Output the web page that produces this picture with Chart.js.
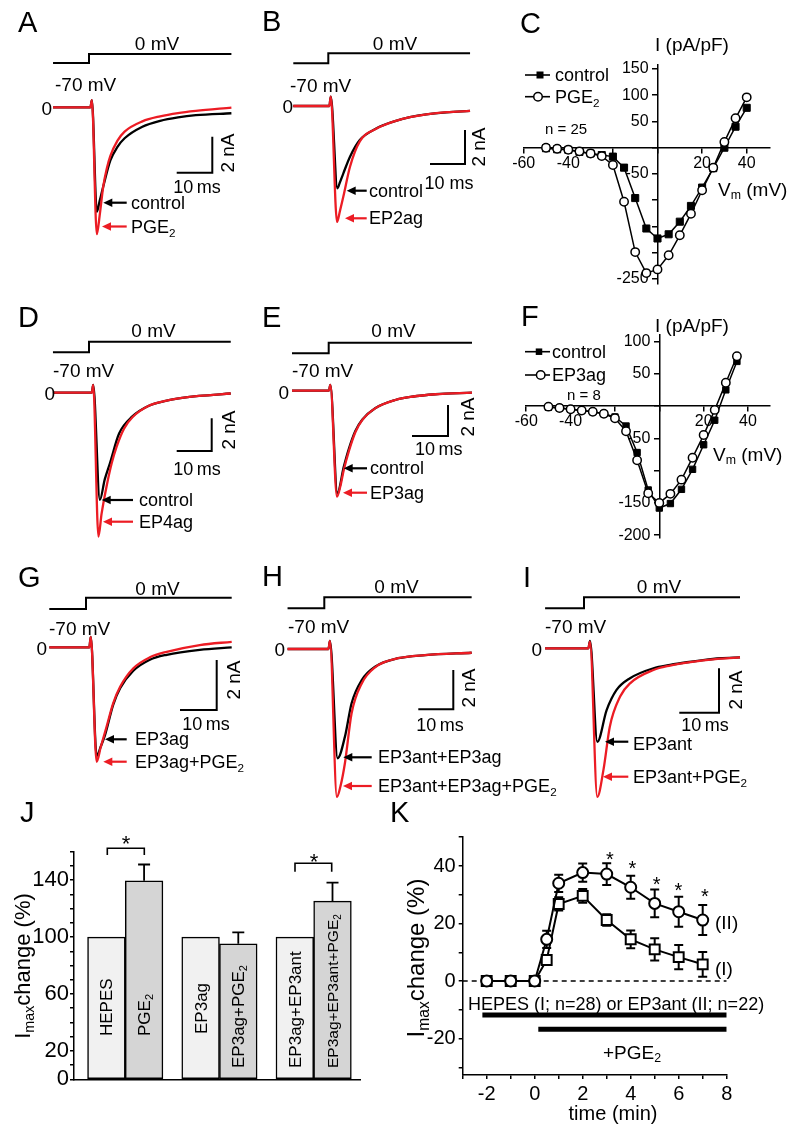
<!DOCTYPE html>
<html lang="en">
<head>
<meta charset="UTF-8">
<title>PGE2 and EP receptor effects on Na+ current</title>
<script src="https://cdn.jsdelivr.net/npm/chart.js@4.4.1/dist/chart.umd.min.js"></script>
<style>
  html, body { margin: 0; padding: 0; background: #fff; }
  #fig { position: relative; width: 793px; height: 1128px; overflow: hidden; background: #fff;
         font-family: "Liberation Sans", Arial, sans-serif; color: #000; }
  #fig canvas { position: absolute; }
  #overlay { position: absolute; left: 0; top: 0; pointer-events: none; }
  .t { position: absolute; white-space: nowrap; line-height: 1; transform: translateY(-50%); }
  .rot { position: absolute; width: 0; height: 0; transform: rotate(-90deg); transform-origin: 0 0; }
  .rot span { position: absolute; left: 0; top: 0; white-space: nowrap; line-height: 1; }
  sub { font-size: 0.65em; vertical-align: -0.3em; line-height: 0; }
</style>
</head>
<body>
<div id="fig"></div>
<script>
// ---- current traces: [time (ms), current (nA)] ----
const aControl = [[-10.1,0],[0.4,0],[0.8,0.4],[2.2,-5.8],[3,-5.2],[4,-4.4],[6,-2.95],[8,-2.2],[10,-1.72],[15,-1.08],[20,-0.75],[25,-0.56],[30,-0.44],[40,-0.33]];
const aPGE2    = [[-10.1,0],[0.4,0],[0.8,0.4],[2.2,-7.05],[3,-6.0],[4,-4.4],[5,-3.4],[6,-2.7],[8,-1.85],[10,-1.35],[15,-0.78],[20,-0.5],[25,-0.32],[30,-0.2],[40,-0.02]];
const bControl = [[-10,0],[0.3,0],[0.7,0.55],[2.6,-4.84],[3.3,-4.5],[4.3,-3.96],[6.2,-2.98],[9,-2.0],[13.8,-1.31],[18.6,-0.92],[23.3,-0.66],[28,-0.49],[33.8,-0.37],[40.5,-0.29]];
const bEP2ag   = [[-10,0],[0.3,0],[0.7,0.55],[2.5,-6.82],[3.3,-6.2],[4.3,-5.33],[6.2,-3.57],[9,-2.08],[13.8,-1.33],[18.6,-0.92],[23.3,-0.66],[28,-0.49],[33.8,-0.36],[40.5,-0.29]];
const dControl = [[-10.3,0],[0.8,0],[1.2,0.47],[3.1,-6.56],[4.5,-5.3],[6,-4.3],[8.6,-2.5],[12.4,-1.45],[17.1,-0.8],[21.9,-0.5],[26.6,-0.32],[31.4,-0.2],[40.5,-0.05]];
const dEP4ag   = [[-10.3,0],[0.8,0],[1.2,0.47],[2.7,-8.8],[3.6,-7.4],[5,-5.75],[6.5,-4.3],[7.9,-3.3],[10,-2.2],[12.4,-1.5],[17.1,-0.8],[21.9,-0.5],[26.6,-0.32],[31.4,-0.2],[40.5,-0.05]];
const eControl = [[-10.2,0],[0.05,0],[0.45,0.37],[2.4,-6.6],[4.2,-4.9],[5.6,-3.75],[7.4,-2.6],[9.3,-1.87],[12.9,-1.13],[18.5,-0.6],[23.1,-0.39],[29.6,-0.23],[39.8,-0.13]];
const eEP3ag   = [[-10.2,0],[0.05,0],[0.45,0.37],[2.3,-6.84],[3.2,-6.2],[4.2,-5.1],[5.6,-3.9],[7.4,-2.68],[9.3,-1.9],[12.9,-1.14],[18.5,-0.6],[23.1,-0.39],[29.6,-0.23],[39.8,-0.12]];
const gEP3ag   = [[-10,0],[0.9,0],[1.3,0.42],[2.9,-4.35],[4,-3.98],[5.2,-3.5],[7.4,-2.3],[9.3,-1.64],[12.9,-0.94],[17.4,-0.5],[22,-0.3],[31,-0.1],[39.7,0]];
const gEP3agPGE2 = [[-10,0],[0.9,0],[1.3,0.42],[2.9,-4.58],[4,-4.0],[5.6,-3.18],[7.4,-2.24],[9.3,-1.58],[12.9,-0.84],[17.4,-0.4],[22,-0.18],[31,0.09],[39.7,0.22]];
const hAntAg   = [[-10.5,0],[1.2,0],[1.6,0.41],[3.8,-5.56],[5.9,-4.46],[7.8,-2.76],[10.7,-1.58],[14.5,-0.9],[21.1,-0.47],[28.8,-0.31],[42.1,-0.19]];
const hAntAgPGE2 = [[-10.5,0],[1.2,0],[1.6,0.41],[3.6,-7.53],[4.6,-7.0],[5.9,-5.8],[7.8,-3.27],[10.7,-1.75],[14.5,-0.93],[21.1,-0.47],[28.8,-0.31],[42.1,-0.19]];
const iAnt     = [[-9.8,0],[1.1,0],[1.5,0.33],[3.35,-4.22],[5.7,-2.79],[8.2,-1.88],[11.6,-1.35],[17.5,-0.9],[21.7,-0.75],[25.9,-0.63],[30,-0.53],[34.3,-0.45],[39.3,-0.41]];
const iAntPGE2 = [[-9.8,0],[1.1,0],[1.5,0.3],[3.35,-6.71],[4.9,-5.49],[6.5,-3.54],[9.1,-2.18],[11.6,-1.58],[17.5,-0.98],[21.7,-0.78],[25.9,-0.65],[34.3,-0.47],[39.3,-0.41]];
const stepLevels = [-70, -70, 0, 0];   // mV, holding then test pulse

// ---- I-V curves (pA/pF) ----
const cVm = [-50,-45,-40,-35,-30,-25,-20,-15,-10,-5,0,5,10,15,20,25,30,35,40];
const cControl = [-1,-3,-4,-8,-11,-14,-17,-38,-96,-154,-173,-165,-141,-111,-76,-39,0,40,76];
const cPGE2    = [0,-2,-4,-7,-11,-16,-33,-103,-199,-239,-232,-205,-167,-126,-81,-38,11,56,96];
const cXTicks = [-60,-40,-20,0,20,40], cXLabels = [-60,-40,20,40];
const cYTicks = [-250,-200,-150,-100,-50,0,50,100,150], cYLabels = [-250,-50,50,100,150];

const fVm = [-50,-45,-40,-35,-30,-25,-20,-15,-10,-5,0,5,10,15,20,25,30,35];
const fControl = [-2,-3,-5,-7,-9,-12,-17,-31,-72,-130,-158,-151,-129,-98,-60,-22,25,69];
const fEP3ag   = [-1,-3,-5,-7,-9,-12,-19,-39,-84,-135,-150,-136,-114,-80,-45,-6,36,77];
const fXTicks = [-60,-40,-20,0,20,40], fXLabels = [-60,-40,20,40];
const fYTicks = [-200,-150,-100,-50,0,50,100], fYLabels = [-200,-150,-50,50,100];

// ---- J: Imax change (%) ----
const jGroups = ['HEPES', 'PGE<sub>2</sub>', 'EP3ag', 'EP3ag+PGE<sub>2</sub>', 'EP3ag+EP3ant', 'EP3ag+EP3ant+PGE<sub>2</sub>'];
const jPos = [1, 2, 3.5, 4.5, 6, 7];
const jValues = [100, 139.5, 100, 95.3, 100, 125.2];
const jErrors = [0, 11.5, 0, 8, 0, 13];
const jYTicks = [0,10,20,30,40,50,60,70,80,90,100,110,120,130,140,150,160];
const jYLabels = [0, 20, 60, 100, 140];

// ---- K: time course ----
const kTime = [-2, -1, 0, 0.5, 1, 2, 3, 4, 5, 6, 7];
const kHepes = [0, 0, 0, 7.3, 26.8, 29.6, 21.2, 14.5, 11, 8.3, 5.8];
const kHepesErr = [0.4, 0.4, 0.4, 1.5, 2.3, 2.4, 2, 3.1, 3.9, 4.2, 4.3];
const kEP3ant = [0, 0, 0, 14.5, 34, 37.7, 37.2, 32.6, 27, 24.1, 21.2];
const kEP3antErr = [0.4, 0.4, 0.4, 3, 3, 3.2, 3.8, 4, 4.8, 5.2, 5.2];
const kDrugBar = [-2.18, 8], kDrugLevel = -11.8;   // HEPES or EP3ant application
const kPGEBar = [0.15, 8], kPGELevel = -16.8;      // +PGE2 application
const kXTicks = [-3,-2,-1,0,1,2,3,4,5,6,7,8], kXLabels = [-2,0,2,4,6,8];
const kYTicks = [-30,-20,-10,0,10,20,30,40,50], kYLabels = [-20,0,20,40];

// -------------------------------------------------------------------
const RED = '#ec1c24';
const FONT = '"Liberation Sans", Arial, sans-serif';
Chart.defaults.font.family = FONT;
Chart.defaults.color = '#000';
const fig = document.getElementById('fig');
const NS = 'http://www.w3.org/2000/svg';

function fitRange(v1, p1, v2, p2, pA, pB) {
  // linear value->pixel map through two known points, returns values at pixels pA, pB
  const k = (p2 - p1) / (v2 - v1);
  const a = v1 + (pA - p1) / k, b = v1 + (pB - p1) / k;
  return { min: Math.min(a, b), max: Math.max(a, b) };
}

function placeCanvas(area, m) {
  const cl = Math.floor(area[0] - m.l), ct = Math.floor(area[1] - m.t);
  const cr = Math.ceil(area[2] + m.r), cb = Math.ceil(area[3] + m.b);
  const c = document.createElement('canvas');
  c.width = cr - cl; c.height = cb - ct;
  c.style.left = cl + 'px'; c.style.top = ct + 'px';
  fig.appendChild(c);
  return {
    canvas: c, left: cl, top: ct,
    padding: { left: area[0] - cl - (m.axisL || 0), top: area[1] - ct,
               right: cr - area[2], bottom: cb - area[3] - (m.axisB || 0) }
  };
}

const baseOpts = {
  responsive: false, animation: false, devicePixelRatio: 1, events: [],
  plugins: { legend: { display: false }, tooltip: { enabled: false } }
};

const xy = arr => arr.map(p => ({ x: p[0], y: p[1] }));

// error bars drawn through the dataset's own scale
const errorBarPlugin = {
  id: 'errorBars',
  beforeDatasetsDraw(chart) { drawErrors(chart, 'under'); },
  afterDatasetsDraw(chart) { drawErrors(chart, 'over'); }
};
function drawErrors(chart, layer) {
  const ctx = chart.ctx;
  chart.data.datasets.forEach((ds, i) => {
    if (!ds.errors || ds.errorLayer !== layer) return;
    const meta = chart.getDatasetMeta(i);
    const ys = chart.scales[meta.yAxisID];
    ctx.save();
    ctx.strokeStyle = '#000';
    ctx.lineWidth = ds.errorWidth;
    ds.errors.forEach((e, j) => {
      if (!e) return;
      const el = meta.data[j], v = ds.data[j].y, half = ds.errorCap / 2;
      const top = ys.getPixelForValue(v + e);
      const bot = ys.getPixelForValue(ds.errorUpOnly ? v : v - e);
      ctx.beginPath();
      ctx.moveTo(el.x, bot); ctx.lineTo(el.x, top);
      ctx.moveTo(el.x - half, top); ctx.lineTo(el.x + half, top);
      if (!ds.errorUpOnly) { ctx.moveTo(el.x - half, bot); ctx.lineTo(el.x + half, bot); }
      ctx.stroke();
    });
    ctx.restore();
  });
}

// ---- trace panels ----
const tracePanels = [
  { area: [45, 40, 240, 245],  t: [89, 124.6],    i: [107.3, 143.3], v: [54, 63],       black: aControl, red: aPGE2 },
  { area: [285, 40, 482, 232], t: [328.3, 363.3], i: [106, 140],     v: [53.3, 63.3],   black: bControl, red: bEP2ag },
  { area: [45, 328, 240, 545], t: [89, 124],      i: [392.7, 425.4], v: [341.7, 352.3], black: dControl, red: dEP4ag },
  { area: [285, 328, 480, 505],t: [328.7, 364.7], i: [390.7, 421.7], v: [342.7, 353.3], black: eControl, red: eEP3ag },
  { area: [40, 585, 240, 770], t: [86, 122.7],    i: [647.3, 697.3], v: [597.7, 609],   black: gEP3ag, red: gEP3agPGE2 },
  { area: [280, 585, 480, 805],t: [324.3, 359.3], i: [649, 688.3],   v: [597.3, 608.3], black: hAntAg, red: hAntAgPGE2 },
  { area: [540, 585, 745, 805],t: [584, 623.7],   i: [648.3, 692.6], v: [597.3, 608.3], black: iAnt, red: iAntPGE2 }
];

tracePanels.forEach(p => {
  const [L, T, R, B] = p.area;
  const pc = placeCanvas(p.area, { l: 6, t: 6, r: 6, b: 6 });
  const xr = fitRange(0, p.t[0], 10, p.t[1], L, R);
  const yr = fitRange(0, p.i[0], -2, p.i[1], T, B);
  const vr = fitRange(0, p.v[0], -70, p.v[1], T, B);
  const stepT = [p.black[0][0], 0, 0, p.black[p.black.length - 1][0]];
  new Chart(pc.canvas, {
    type: 'line',
    data: {
      datasets: [
        { data: xy(p.red), borderColor: RED, borderWidth: 2.3, cubicInterpolationMode: 'monotone', order: 0 },
        { data: xy(p.black), borderColor: '#000', borderWidth: 2.3, cubicInterpolationMode: 'monotone', order: 1 },
        { data: stepLevels.map((v, k) => ({ x: stepT[k], y: v })), yAxisID: 'yv', borderColor: '#000', borderWidth: 2, order: 2 }
      ]
    },
    options: {
      ...baseOpts,
      layout: { padding: pc.padding },
      elements: { point: { radius: 0 } },
      scales: {
        x: { type: 'linear', display: false, min: xr.min, max: xr.max },
        y: { type: 'linear', display: false, min: yr.min, max: yr.max },
        yv: { type: 'linear', display: false, min: vr.min, max: vr.max }
      }
    }
  });
});

// ---- I-V panels ----
function ivPanel(p) {
  const [L, T, R, B] = p.area;
  const pc = placeCanvas(p.area, { l: 30, t: 30, r: 30, b: 30 });
  const xr = fitRange(0, p.x0, 40, p.x40, L, R);
  const yr = fitRange(0, p.y0, p.yRef[0], p.yRef[1], T, B);
  const axisStyle = { grid: { drawOnChartArea: false, tickLength: 5, color: '#000', lineWidth: 1.5 },
                      border: { color: '#000', width: 1.5 } };
  new Chart(pc.canvas, {
    type: 'line',
    data: {
      datasets: [
        { data: p.vm.map((v, k) => ({ x: v, y: p.drug[k] })), borderColor: '#000', borderWidth: 1.5,
          pointStyle: 'circle', pointRadius: p.cr, pointBackgroundColor: '#fff', pointBorderColor: '#000', pointBorderWidth: 1.5, order: 0 },
        { data: p.vm.map((v, k) => ({ x: v, y: p.ctrl[k] })), borderColor: '#000', borderWidth: 1.5,
          pointStyle: 'rect', pointRadius: p.sr, pointBackgroundColor: '#000', pointBorderColor: '#000', pointBorderWidth: 1, order: 1 }
      ]
    },
    options: {
      ...baseOpts,
      layout: { padding: pc.padding },
      scales: {
        x: { type: 'linear', position: { y: 0 }, min: xr.min, max: xr.max, ...axisStyle,
             afterFit: s => { s.height = 0; },
             afterBuildTicks: s => { s.ticks = p.xTicks.map(v => ({ value: v })); },
             ticks: { autoSkip: false, maxRotation: 0, padding: 1, font: { size: 16 },
                      callback: v => p.xLabels.includes(v) ? String(v) : '' } },
        y: { type: 'linear', position: { x: 0 }, min: yr.min, max: yr.max, ...axisStyle,
             afterFit: s => { s.width = 0; },
             afterBuildTicks: s => { s.ticks = p.yTicks.map(v => ({ value: v })); },
             ticks: { autoSkip: false, font: { size: 16 },
                      callback: v => p.yLabels.includes(v) ? v + '  ' : '' } }
      }
    }
  });
}
ivPanel({ area: [523.7, 65, 770, 283.3], x0: 657.5, x40: 746.7, y0: 147.7, yRef: [150, 69],
          vm: cVm, ctrl: cControl, drug: cPGE2, xTicks: cXTicks, xLabels: cXLabels,
          yTicks: cYTicks, yLabels: cYLabels, sr: 5, cr: 4.2 });
ivPanel({ area: [526, 335, 770, 537.5], x0: 659.3, x40: 748, y0: 406, yRef: [100, 341.4],
          vm: fVm, ctrl: fControl, drug: fEP3ag, xTicks: fXTicks, xLabels: fXLabels,
          yTicks: fYTicks, yLabels: fYLabels, sr: 4.5, cr: 4.2 });

// ---- J bar chart ----
const jArea = [74, 851.7, 360, 1079.3];
const jc = placeCanvas(jArea, { l: 54, t: 22, r: 15, b: 21, axisL: 40 });
const jxr = fitRange(1, 106.4, 7, 332.5, jArea[0], jArea[2]);
const jChart = new Chart(jc.canvas, {
  type: 'bar',
  data: {
    datasets: [{
      data: jPos.map((x, k) => ({ x: x, y: jValues[k] })),
      backgroundColor: jPos.map((x, k) => k % 2 ? '#d5d5d5' : '#f1f1f1'),
      borderColor: '#000', borderWidth: 1.5, borderSkipped: false,
      categoryPercentage: 1, barPercentage: 1,
      errors: jErrors, errorLayer: 'over', errorUpOnly: true, errorCap: 12, errorWidth: 1.8
    }]
  },
  options: {
    ...baseOpts,
    layout: { padding: jc.padding },
    scales: {
      x: { type: 'linear', offset: false, min: jxr.min, max: jxr.max,
           afterBuildTicks: s => { s.ticks = jPos.map(v => ({ value: v })); },
           afterFit: s => { s.height = 0; },
           ticks: { display: false }, grid: { display: false, offset: false },
           border: { color: '#000', width: 1.5 } },
      y: { type: 'linear', min: 0, max: 160,
           afterBuildTicks: s => { s.ticks = jYTicks.map(v => ({ value: v })); },
           afterFit: s => { s.width = 40; },
           ticks: { autoSkip: false, padding: 1, font: { size: 22 },
                    callback: v => jYLabels.includes(v) ? String(v) : '' },
           grid: { drawOnChartArea: false, tickLength: 4, color: '#000', lineWidth: 1.5 },
           border: { color: '#000', width: 1.5 } }
    }
  },
  plugins: [errorBarPlugin]
});

// ---- K time course ----
const kArea = [462.7, 836.7, 726.7, 1075];
const kc = placeCanvas(kArea, { l: 62.7, t: 22, r: 18, b: 53, axisL: 45, axisB: 35 });
const kyr = fitRange(0, 981, 20, 923.5, kArea[1], kArea[3]);
const kXMin = kXTicks[0], kXMax = kXTicks[kXTicks.length - 1];
new Chart(kc.canvas, {
  type: 'line',
  data: {
    datasets: [
      { data: kTime.map((x, k) => ({ x: x, y: kEP3ant[k] })), borderColor: '#000', borderWidth: 2,
        pointStyle: 'circle', pointRadius: 5.5, pointBackgroundColor: '#fff', pointBorderColor: '#000', pointBorderWidth: 2,
        errors: kEP3antErr, errorLayer: 'under', errorCap: 9, errorWidth: 2, order: 0 },
      { data: kTime.map((x, k) => ({ x: x, y: kHepes[k] })), borderColor: '#000', borderWidth: 2,
        pointStyle: 'rect', pointRadius: 7, pointBackgroundColor: '#fff', pointBorderColor: '#000', pointBorderWidth: 2,
        errors: kHepesErr, errorLayer: 'under', errorCap: 9, errorWidth: 2, order: 1 },
      { data: kDrugBar.map(x => ({ x: x, y: kDrugLevel })), borderColor: '#000', borderWidth: 5, borderCapStyle: 'butt', pointRadius: 0, order: 2 },
      { data: kPGEBar.map(x => ({ x: x, y: kPGELevel })), borderColor: '#000', borderWidth: 5, borderCapStyle: 'butt', pointRadius: 0, order: 3 },
      { data: [kXMin, kXMax].map(x => ({ x: x, y: 0 })), borderColor: '#000', borderWidth: 1.6, borderDash: [5, 4], pointRadius: 0, order: 4 }
    ]
  },
  options: {
    ...baseOpts,
    layout: { padding: kc.padding },
    scales: {
      x: { type: 'linear', min: kXMin, max: kXMax,
           afterBuildTicks: s => { s.ticks = kXTicks.map(v => ({ value: v })); },
           afterFit: s => { s.height = 35; },
           ticks: { autoSkip: false, maxRotation: 0, padding: 3, font: { size: 20 },
                    callback: v => kXLabels.includes(v) ? String(v) : '' },
           grid: { drawOnChartArea: false, tickLength: 4, color: '#000', lineWidth: 1.5 },
           border: { color: '#000', width: 1.5 } },
      y: { type: 'linear', min: kyr.min, max: kyr.max,
           afterBuildTicks: s => { s.ticks = kYTicks.map(v => ({ value: v })); },
           afterFit: s => { s.width = 45; },
           ticks: { autoSkip: false, padding: 3, font: { size: 20 },
                    callback: v => kYLabels.includes(v) ? String(v) : '' },
           grid: { drawOnChartArea: false, tickLength: 4, color: '#000', lineWidth: 1.5 },
           border: { color: '#000', width: 1.5 } }
    }
  },
  plugins: [errorBarPlugin]
});

// ---- overlay: scale bars, arrows, brackets, legend keys ----
const svg = document.createElementNS(NS, 'svg');
svg.setAttribute('id', 'overlay');
svg.setAttribute('width', 793); svg.setAttribute('height', 1128);
fig.appendChild(svg);
function svgEl(tag, attrs) {
  const e = document.createElementNS(NS, tag);
  for (const k in attrs) e.setAttribute(k, attrs[k]);
  svg.appendChild(e);
  return e;
}
function scaleBar(x, yTop, xLeft, yBot) {
  svgEl('path', { d: `M${x},${yTop} V${yBot} H${xLeft}`, fill: 'none', stroke: '#000', 'stroke-width': 2 });
}
function arrow(tail, tip, y, color) {
  const hl = 9, hw = 4.2;
  svgEl('line', { x1: tail, y1: y, x2: tip + hl - 1, y2: y, stroke: color, 'stroke-width': 2.2 });
  svgEl('polygon', { points: `${tip},${y} ${tip + hl},${y - hw} ${tip + hl},${y + hw}`, fill: color });
}
[[212.3, 136.7, 176.7, 172.7], [465, 130, 430, 164], [211.7, 418.3, 176.7, 451], [448, 405, 412, 436],
 [216.7, 660, 180, 710], [453.3, 670, 418.3, 709.3], [719, 668.3, 679.3, 712.7]].forEach(b => scaleBar(...b));
[[126.7, 103.3, 202.7, '#000'], [126.7, 102, 226.5, RED],
 [366.7, 346.7, 190.7, '#000'], [366.7, 345, 218.3, RED],
 [133, 101.7, 500, '#000'], [133, 103, 521.7, RED],
 [367, 343.7, 468.3, '#000'], [367, 343, 492.7, RED],
 [126.7, 105, 739.3, '#000'], [126.7, 103.3, 761.7, RED],
 [371.7, 343.3, 757.3, '#000'], [371.7, 343, 786, RED],
 [628.3, 605, 741.7, '#000'], [628.3, 603, 776.7, RED]].forEach(a => arrow(...a));
// significance brackets in J
svgEl('path', { d: 'M107.3,855 V848.3 H144.3 V855', fill: 'none', stroke: '#000', 'stroke-width': 1.6 });
svgEl('path', { d: 'M295,871.7 V863.3 H331.7 V871.7', fill: 'none', stroke: '#000', 'stroke-width': 1.6 });
// legend keys of C and F
function legendKey(y, x0, x1, cx, kind, size) {
  svgEl('line', { x1: x0, y1: y, x2: x1, y2: y, stroke: '#000', 'stroke-width': 1.6 });
  if (kind === 'rect') svgEl('rect', { x: cx - size / 2, y: y - size / 2, width: size, height: size, fill: '#000' });
  else svgEl('circle', { cx: cx, cy: y, r: size / 2, fill: '#fff', stroke: '#000', 'stroke-width': 1.5 });
}
legendKey(75, 525, 550, 540, 'rect', 7);
legendKey(96.7, 525, 550, 538, 'circle', 8.5);
legendKey(351.7, 525, 550, 539, 'rect', 6.5);
legendKey(375, 525, 550, 540.7, 'circle', 8.5);

// ---- text ----
function label(x, y, html, size, align, color) {
  const d = document.createElement('div');
  d.className = 't';
  d.innerHTML = html;
  d.style.fontSize = size + 'px';
  d.style.top = y + 'px';
  if (align === 'c') { d.style.left = x + 'px'; d.style.transform = 'translate(-50%,-50%)'; }
  else if (align === 'r') d.style.right = (793 - x) + 'px';
  else d.style.left = x + 'px';
  if (color) d.style.color = color;
  fig.appendChild(d);
}
function rotLabel(x, y, html, size, fromStart) {
  const w = document.createElement('div');
  w.className = 'rot';
  w.style.left = x + 'px'; w.style.top = y + 'px';
  const s = document.createElement('span');
  s.innerHTML = html;
  s.style.fontSize = size + 'px';
  s.style.transform = fromStart ? 'translate(0,-50%)' : 'translate(-50%,-50%)';
  w.appendChild(s);
  fig.appendChild(w);
}

[['A', 18, 22], ['B', 262, 21], ['C', 520, 22.5], ['D', 18, 317], ['E', 262, 317], ['F', 521, 316],
 ['G', 18, 577], ['H', 262, 576], ['I', 523, 577], ['J', 20, 812], ['K', 390, 812]]
  .forEach(l => label(l[1], l[2], l[0], 29));

const traceText = [
  ['0 mV', 157, 42.5, 19, 'c'], ['-70 mV', 55, 83.5, 19], ['0', 52, 108, 19, 'r'], ['10\u2009ms', 197, 186.5, 18, 'c'],
  ['control', 131, 202.5, 18], ['PGE<sub>2</sub>', 131, 226.5, 18],
  ['0 mV', 395, 42.5, 19, 'c'], ['-70 mV', 290, 84.5, 19], ['0', 293, 106, 19, 'r'], ['10 ms', 449, 182.5, 18, 'c'],
  ['control', 369, 190.5, 18], ['EP2ag', 369, 218.3, 18],
  ['0 mV', 153.5, 330, 19, 'c'], ['-70 mV', 53, 369.5, 19], ['0', 55, 393, 19, 'r'], ['10\u2009ms', 197, 468.5, 18, 'c'],
  ['control', 139, 500, 18], ['EP4ag', 139, 521.7, 18],
  ['0 mV', 393.5, 330, 19, 'c'], ['-70 mV', 292, 370, 19], ['0', 289, 391.5, 19, 'r'], ['10\u2009ms', 438.7, 449, 18, 'c'],
  ['control', 370, 468.3, 18], ['EP3ag', 370, 492.7, 18],
  ['0 mV', 157.5, 587.5, 19, 'c'], ['-70 mV', 49, 627.5, 19], ['0', 47, 647.5, 19, 'r'], ['10\u2009ms', 206, 724, 18, 'c'],
  ['EP3ag', 135, 739.3, 18], ['EP3ag+PGE<sub>2</sub>', 135, 761.7, 18],
  ['0 mV', 396.5, 585.5, 19, 'c'], ['-70 mV', 288, 625.5, 19], ['0', 285, 649, 19, 'r'], ['10\u2009ms', 440, 725, 18, 'c'],
  ['EP3ant+EP3ag', 378, 757.3, 18], ['EP3ant+EP3ag+PGE<sub>2</sub>', 378, 786, 18],
  ['0 mV', 659, 585.5, 19, 'c'], ['-70 mV', 545, 625.5, 19], ['0', 542, 648.5, 19, 'r'], ['10\u2009ms', 705, 724.5, 18, 'c'],
  ['EP3ant', 633, 744, 18], ['EP3ant+PGE<sub>2</sub>', 633, 777, 18]
];
traceText.forEach(t => label(t[1], t[2], t[0], t[3], t[4]));
[[226.7, 153], [478, 146.7], [228, 430], [467, 416.7], [233.3, 680], [468.3, 688.3], [735, 690]]
  .forEach(p => rotLabel(p[0], p[1], '2 nA', 19));

// I-V texts
label(655, 44, 'I (pA/pF)', 19); label(555, 75, 'control', 18); label(555, 97, 'PGE<sub>2</sub>', 18);
label(545, 127.5, 'n = 25', 15); label(718, 189, 'V<sub>m</sub> (mV)', 19);
label(655, 325, 'I (pA/pF)', 19); label(552, 351.7, 'control', 18); label(552, 375, 'EP3ag', 18);
label(567, 394, 'n = 8', 15); label(713, 454, 'V<sub>m</sub> (mV)', 19);

// J texts (bar labels placed from the chart's own x scale)
rotLabel(23, 966, 'I<sub>max</sub>change (%)', 22);
const jStart = [1036, 1036, 1034, 1068, 1068, 1068];
jGroups.forEach((g, k) => {
  const cx = jc.left + jChart.scales.x.getPixelForValue(jPos[k]);
  rotLabel(cx, jStart[k], g, k === 5 ? 15.5 : 17, true);
});
label(126, 844, '*', 22, 'c'); label(314, 862, '*', 22, 'c');

// K texts
rotLabel(416, 958, 'I<sub>max</sub>change (%)', 24);
label(613, 1113, 'time (min)', 20, 'c');
label(468, 1003.5, 'HEPES (I; n=28) or EP3ant (II; n=22)', 18);
label(603, 1051.5, '+PGE<sub>2</sub>', 19);
label(715, 921.5, '(II)', 19); label(715, 967.5, '(I)', 19);
[[610, 859.4], [632.3, 867.7], [656.7, 884.4], [678.3, 890], [705, 896]].forEach(s => label(s[0], s[1], '*', 20, 'c'));
</script>
</body>
</html>
